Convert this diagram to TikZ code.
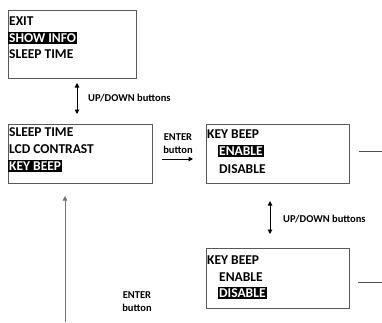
\documentclass[tikz,border=0pt]{standalone}
\usepackage{fontspec}
\setmainfont{Carlito}
\usetikzlibrary{arrows.meta}

\tikzset{
  screen/.style={draw=black!65, line width=1.1pt, anchor=north west, inner sep=0pt},
  item/.style={anchor=west, inner xsep=1pt, inner ysep=1.6pt, font=\bfseries\fontsize{13.5}{15}\selectfont},
  sel/.style={item, fill=black, text=white},
  note/.style={font=\bfseries\fontsize{10.5}{13}\selectfont, align=center, inner sep=0pt},
  nav/.style={-{Triangle[length=4.5pt,width=4.5pt]}, line width=0.9pt},
  updown/.style={{Triangle[length=4.5pt,width=4.5pt]}-{Triangle[length=4.5pt,width=4.5pt]}, line width=0.9pt},
  exit/.style={draw=black!70, line width=0.9pt}
}

\begin{document}
\begin{tikzpicture}[x=1pt,y=-1pt]
  \useasboundingbox (0,0) rectangle (382,322);

  % main menu screens
  \node[screen, minimum width=128pt, minimum height=68pt] (info) at (8,10) {};
  \node[item] (info1) at (8,21) {EXIT};
  \node[sel]  (info2) at (8,38) {SHOW INFO};
  \node[item] (info3) at (8,54) {SLEEP TIME};

  \node[screen, minimum width=144pt, minimum height=59pt] (menu) at (8,124) {};
  \node[item] (menu1) at (8,132) {SLEEP TIME};
  \node[item] (menu2) at (8,149) {LCD CONTRAST};
  \node[sel]  (menu3) at (8,166) {KEY BEEP};

  % key beep sub screens
  \node[screen, minimum width=143pt, minimum height=59pt] (beepon) at (206,124) {};
  \node[item] (beepon1) at (206,134) {KEY BEEP};
  \node[sel]  (beepon2) at (218,151) {ENABLE};
  \node[item] (beepon3) at (218,169) {DISABLE};

  \node[screen, minimum width=143pt, minimum height=60pt] (beepoff) at (206,248) {};
  \node[item] (beepoff1) at (206,260) {KEY BEEP};
  \node[item] (beepoff2) at (218,277) {ENABLE};
  \node[sel]  (beepoff3) at (218,293) {DISABLE};

  % arrow ends
  \coordinate (ud1a) at (77,83);
  \coordinate (ud1b) at (77,114);
  \coordinate (ud2a) at (270,201);
  \coordinate (ud2b) at (270,234);
  \coordinate (ent1a) at (162,159);
  \coordinate (ent1b) at (193,159);
  \coordinate (back) at (65,322);
  \coordinate (backtip) at (65,196);
  \coordinate (out1a) at (359,151);
  \coordinate (out1) at (382,151);
  \coordinate (out2a) at (358,282);
  \coordinate (out2) at (382,282);

  \draw[updown] (ud1a) -- (ud1b);
  \node[note, anchor=west] (ud1) at (88,98) {UP/DOWN buttons};

  \draw[nav] (ent1a) -- (ent1b);
  \node[note] (ent1) at (178,144) {ENTER\\button};

  \draw[updown] (ud2a) -- (ud2b);
  \node[note, anchor=west] (ud2) at (283,219) {UP/DOWN buttons};

  \draw[nav, draw=black!55, line width=1pt] (back) -- (backtip);
  \node[note] (ent2) at (137,302) {ENTER\\button};

  \draw[exit] (out1a) -- (out1);
  \draw[exit] (out2a) -- (out2);
\end{tikzpicture}
\end{document}
